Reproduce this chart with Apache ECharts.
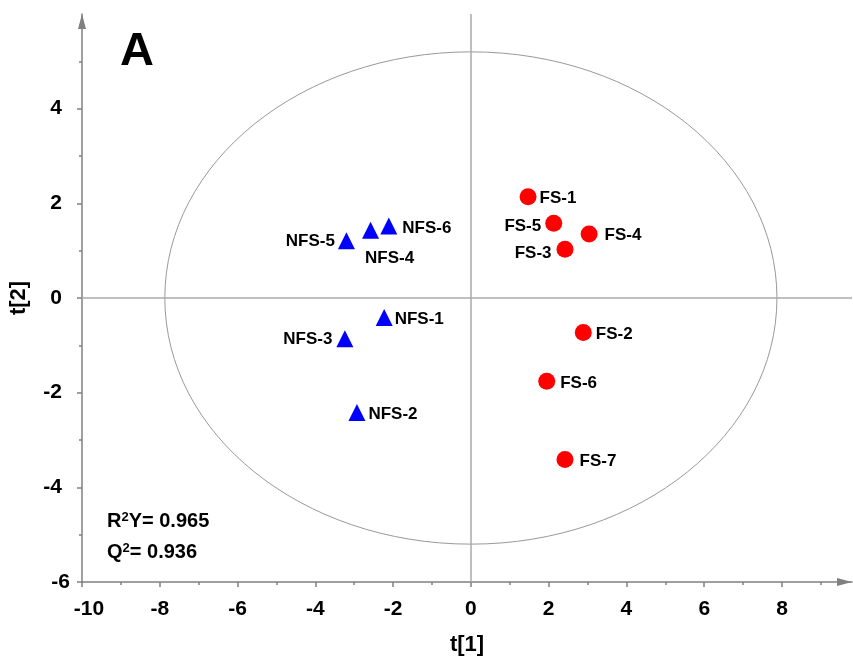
<!DOCTYPE html>
<html><head><meta charset="utf-8">
<script src="https://cdn.jsdelivr.net/npm/echarts@6/dist/echarts.min.js"></script>
<style>html,body{margin:0;padding:0;background:#fff}#c{width:853px;height:662px}</style>
</head><body><div id="c"></div>
<script>
// ---- data ----
const fsNames = ['FS-1', 'FS-2', 'FS-3', 'FS-4', 'FS-5', 'FS-6', 'FS-7'];
const fsX = [1.47, 2.89, 2.42, 3.04, 2.13, 1.95, 2.42];
const fsY = [2.14, -0.73, 1.03, 1.35, 1.58, -1.76, -3.41];
const nfsNames = ['NFS-1', 'NFS-2', 'NFS-3', 'NFS-4', 'NFS-5', 'NFS-6'];
const nfsX = [-2.23, -2.93, -3.24, -2.58, -3.20, -2.11];
const nfsY = [-0.41, -2.42, -0.86, 1.43, 1.21, 1.52];
const xTicks = [-10, -8, -6, -4, -2, 0, 2, 4, 6, 8];
const xMinor = [-9, -7, -5, -3, -1, 1, 3, 5, 7, 9];
const yTicks = [-6, -4, -2, 0, 2, 4];
const yMinor = [-5, -3, -1, 1, 3, 5];
const ellipseRadii = [7.87, 5.2];
const r2yValue = '0.965';
const q2Value = '0.936';
const panelLetter = 'A';

// ---- styling ----
const FONT = "'Liberation Sans', Arial, sans-serif";
const AXIS_COLOR = '#808080';
const labelPlacement = {
  'FS-1': {position: 'right', offset: [-1, 2]},
  'FS-2': {position: 'right', offset: [0, 2]},
  'FS-3': {position: 'left', offset: [-1, 4]},
  'FS-4': {position: 'right', offset: [3, 1]},
  'FS-5': {position: 'left', offset: [0, 3]},
  'FS-6': {position: 'right', offset: [1, 2]},
  'FS-7': {position: 'right', offset: [2, 2]},
  'NFS-1': {position: 'right', offset: [-2, 2]},
  'NFS-2': {position: 'right', offset: [-1, 2]},
  'NFS-3': {position: 'left', offset: [0, 1]},
  'NFS-4': {position: 'bottom', offset: [19, 7]},
  'NFS-5': {position: 'left', offset: [1, 1]},
  'NFS-6': {position: 'right', offset: [1, 2]}
};
function buildData(names, xs, ys) {
  return names.map((n, i) => ({
    name: n,
    value: [xs[i], ys[i]],
    label: labelPlacement[n]
  }));
}
const pointLabel = {
  show: true, formatter: '{b}', color: '#000', fontSize: 17,
  fontWeight: 'bold', fontFamily: FONT, distance: 4
};
const tickFont = {color: '#000', fontSize: 21, fontWeight: 'bold', fontFamily: FONT};

function valueAxis(min, max, ticks, labels, pos, margin, extra) {
  return Object.assign({
    type: 'value', min: min, max: max, position: pos,
    axisLine: {show: true, onZero: false,
      symbol: ['none', 'triangle'], symbolSize: [8, 15], symbolOffset: [0, -7.5],
      lineStyle: {color: AXIS_COLOR, width: 1.5}},
    axisTick: {show: true, inside: false, length: 5, customValues: ticks,
      lineStyle: {color: AXIS_COLOR, width: 1.5}},
    axisLabel: Object.assign({show: true, customValues: labels, margin: margin}, tickFont),
    splitLine: {show: false}, minorTick: {show: false}
  }, extra);
}
function minorAxis(min, max, ticks, pos) {
  return {
    type: 'value', min: min, max: max, position: pos,
    axisLine: {show: false, onZero: false},
    axisTick: {show: true, inside: false, length: 3, customValues: ticks,
      lineStyle: {color: AXIS_COLOR, width: 1.5}},
    axisLabel: {show: false}, splitLine: {show: false}
  };
}
function labelOnlyAxis(min, max, labels, pos, margin) {
  return {
    type: 'value', min: min, max: max, position: pos,
    axisLine: {show: false, onZero: false}, axisTick: {show: false},
    axisLabel: Object.assign({show: true, customValues: labels, margin: margin}, tickFont),
    splitLine: {show: false}
  };
}
const statRich = {
  b: {fontSize: 20, fontWeight: 'bold', fontFamily: FONT, color: '#000'},
  sup: {fontSize: 13, fontWeight: 'bold', fontFamily: FONT, color: '#000', verticalAlign: 'top'}
};

const xMin = -10, xMax = 9.8, yMin = -6, yMax = 6;
const xAxis0 = valueAxis(xMin, xMax, xTicks, xTicks, 'bottom', 17, {
  name: 't[1]', nameLocation: 'middle', nameGap: 52,
  nameTextStyle: {color: '#000', fontSize: 22, fontWeight: 'bold', fontFamily: FONT}
});
xAxis0.axisLabel.formatter = function (v) { return v === xMin ? '{p|' + v + '}' : String(v); };
xAxis0.axisLabel.rich = {p: {padding: [0, 0, 0, 14]}};

const chart = echarts.init(document.getElementById('c'), null, {renderer: 'canvas'});
chart.setOption({
  backgroundColor: '#fff',
  animation: false,
  grid: {left: 82, right: 1, top: 14, bottom: 80, containLabel: false},
  xAxis: [
    xAxis0,
    minorAxis(xMin, xMax, xMinor, 'bottom')
  ],
  yAxis: [
    valueAxis(yMin, yMax, yTicks, yTicks.filter(v => v !== yMin), 'left', 20, {
      name: 't[2]', nameLocation: 'middle', nameGap: 52,
      nameTextStyle: {color: '#000', fontSize: 22, fontWeight: 'bold', fontFamily: FONT}
    }),
    minorAxis(yMin, yMax, yMinor, 'left'),
    labelOnlyAxis(yMin, yMax, [yMin], 'left', 12)
  ],
  graphic: [
    {type: 'text', left: 120, top: 29, silent: true,
      style: {text: panelLetter, fill: '#000', font: 'bold 47px ' + FONT}},
    {type: 'text', left: 107, top: 511, silent: true,
      style: {text: '{b|R}{sup|2}{b|Y= ' + r2yValue + '}', rich: statRich}},
    {type: 'text', left: 107, top: 542, silent: true,
      style: {text: '{b|Q}{sup|2}{b|= ' + q2Value + '}', rich: statRich}}
  ],
  series: [
    {
      type: 'custom', silent: true, z: 1,
      data: [[0, 0]],
      renderItem: function (params, api) {
        const c = api.coord([api.value(0), api.value(1)]);
        const s = api.size(ellipseRadii);
        return {
          type: 'ellipse',
          shape: {cx: c[0], cy: c[1], rx: s[0], ry: s[1]},
          style: {fill: 'none', stroke: '#999999', lineWidth: 1}
        };
      }
    },
    {
      type: 'scatter', data: [], z: 1, silent: true,
      markLine: {
        silent: true, symbol: ['none', 'none'], animation: false,
        label: {show: false},
        lineStyle: {color: '#aaaaaa', width: 1.5, type: 'solid'},
        emphasis: {disabled: true},
        data: [{xAxis: 0}, {yAxis: 0}]
      }
    },
    {
      type: 'scatter', name: 'FS', symbol: 'circle', symbolSize: 17, z: 5,
      itemStyle: {color: '#ff0000', opacity: 1},
      label: pointLabel,
      data: buildData(fsNames, fsX, fsY)
    },
    {
      type: 'scatter', name: 'NFS', symbol: 'triangle', symbolSize: [17, 17], z: 5,
      itemStyle: {color: '#0000ff', opacity: 1},
      label: pointLabel,
      data: buildData(nfsNames, nfsX, nfsY)
    }
  ]
});
</script>
</body></html>
